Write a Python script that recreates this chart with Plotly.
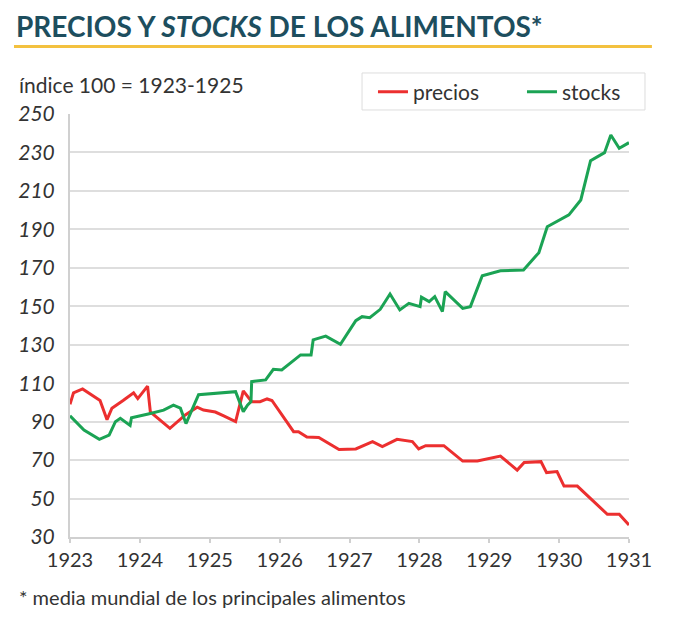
import plotly.graph_objects as go

# Datos (año decimal, índice 100 = 1923-1925)
precios_x = [1923.0, 1923.05, 1923.18, 1923.43, 1923.53, 1923.6, 1923.76, 1923.91, 1923.97,
             1924.11, 1924.15, 1924.43, 1924.65, 1924.82, 1924.91, 1925.08, 1925.2, 1925.37,
             1925.48, 1925.6, 1925.72, 1925.82, 1925.89, 1926.2, 1926.27, 1926.39, 1926.56,
             1926.85, 1927.09, 1927.33, 1927.47, 1927.68, 1927.9, 1927.99, 1928.09, 1928.35,
             1928.62, 1928.83, 1929.16, 1929.4, 1929.5, 1929.74, 1929.82, 1929.97, 1930.07,
             1930.26, 1930.69, 1930.86, 1931.0]
precios_y = [99, 105, 107, 101, 91, 97, 101, 105, 102,
             108.5, 95, 86.5, 93.5, 97.5, 96, 95, 93, 90,
             106, 100.4, 100.4, 101.8, 101, 84.8, 84.8, 82, 81.8,
             75.5, 75.8, 79.6, 77, 80.8, 79.6, 75.8, 77.5, 77.5,
             69.5, 69.5, 72.1, 64.8, 68.8, 69.2, 63.5, 64, 56.5,
             56.5, 41.8, 41.8, 36.2]

stocks_x = [1923.0, 1923.2, 1923.42, 1923.56, 1923.65, 1923.72, 1923.86, 1923.88, 1924.12,
            1924.34, 1924.48, 1924.58, 1924.66, 1924.84, 1925.37, 1925.48, 1925.54, 1925.59,
            1925.6, 1925.8, 1925.91, 1926.03, 1926.3, 1926.45, 1926.48, 1926.66, 1926.87,
            1927.09, 1927.18, 1927.29, 1927.44, 1927.58, 1927.72, 1927.85, 1928.01, 1928.03,
            1928.14, 1928.22, 1928.33, 1928.37, 1928.62, 1928.73, 1928.9, 1929.16, 1929.49,
            1929.71, 1929.83, 1930.14, 1930.31, 1930.45, 1930.65, 1930.74, 1930.86, 1931.0]
stocks_y = [93, 85.6, 80.8, 83, 90, 91.7, 88, 92, 94,
            96, 98.6, 97, 89, 104, 105.6, 95.2, 98.6, 100.4,
            110.8, 111.7, 117.2, 116.9, 124.7, 124.7, 132.5, 134.5, 130.2,
            142.5, 144.6, 144.1, 148.4, 156.4, 148.1, 151.5, 149.8, 154.7,
            152.4, 155, 147.2, 157.6, 148.9, 149.8, 165.9, 168.5, 168.9,
            177.9, 191.4, 197.5, 205.3, 225.7, 229.9, 239.1, 232.2, 235.1]

y_ticks = list(range(30, 251, 20))
x_ticks = list(range(1923, 1932))

fig = go.Figure()
fig.add_trace(go.Scatter(x=precios_x, y=precios_y, mode='lines', name='precios',
                         line=dict(color='#ec2f2f', width=3)))
fig.add_trace(go.Scatter(x=stocks_x, y=stocks_y, mode='lines', name='stocks',
                         line=dict(color='#1ba354', width=3)))

fig.update_layout(
    width=658, height=604,
    margin=dict(l=62, r=37, t=106, b=75, autoexpand=False),
    paper_bgcolor='white', plot_bgcolor='white',
    font=dict(family='Lato, Open Sans, sans-serif', color='#333333', size=18),
    showlegend=True,
    # leyenda sin borde; el recuadro se dibuja aparte como shape
    legend=dict(orientation='h', x=0.542, xanchor='left', y=1.052, yanchor='middle',
                borderwidth=0, bgcolor='rgba(0,0,0,0)',
                font=dict(size=21, color='#333333'), itemwidth=30,
                entrywidth=104, entrywidthmode='pixels'),
    xaxis=dict(range=[1923, 1931], tickvals=x_ticks, ticktext=[str(t) for t in x_ticks],
               showgrid=False, showline=True, linecolor='#d0d0d0', linewidth=2,
               ticks='outside', ticklen=4, tickcolor='#d0d0d0', tickwidth=2,
               tickfont=dict(size=20, color='#333333'), zeroline=False, fixedrange=True,
               automargin=False),
    yaxis=dict(range=[30, 250], tickvals=y_ticks, showgrid=True, gridcolor='#dedede',
               gridwidth=2, showline=True, linecolor='#d0d0d0', linewidth=2,
               ticks='', ticklabelstandoff=9,
               tickfont=dict(size=21, color='#333333', style='italic'),
               zeroline=False, fixedrange=True, automargin=False),
    shapes=[
        dict(type='line', xref='paper', yref='paper', x0=-0.1002, x1=1.041,
             y0=1.1596, y1=1.1596, line=dict(color='#f3c13f', width=3)),
        dict(type='rect', xref='paper', yref='paper', x0=0.5224, x1=1.0286,
             y0=1.0095, y1=1.097, line=dict(color='#dddddd', width=1),
             fillcolor='white', layer='below'),
    ],
    annotations=[
        dict(text='PRECIOS Y <i>STOCKS</i> DE LOS ALIMENTOS*', xref='paper', yref='paper',
             x=-0.1002, y=1.163, xanchor='left', yanchor='bottom', showarrow=False,
             font=dict(size=28, color='#1d4e5e', family='Lato, sans-serif', weight='bold')),
        dict(text='índice 100 = 1923-1925', xref='paper', yref='paper',
             x=-0.0948, y=1.036, xanchor='left', yanchor='bottom', showarrow=False,
             font=dict(size=21, color='#333333')),
        dict(text='* media mundial de los principales alimentos', xref='paper', yref='paper',
             x=-0.0948, y=-0.1418, xanchor='left', yanchor='middle', showarrow=False,
             font=dict(size=20, color='#333333')),
    ],
)

fig.write_html("out.html")
